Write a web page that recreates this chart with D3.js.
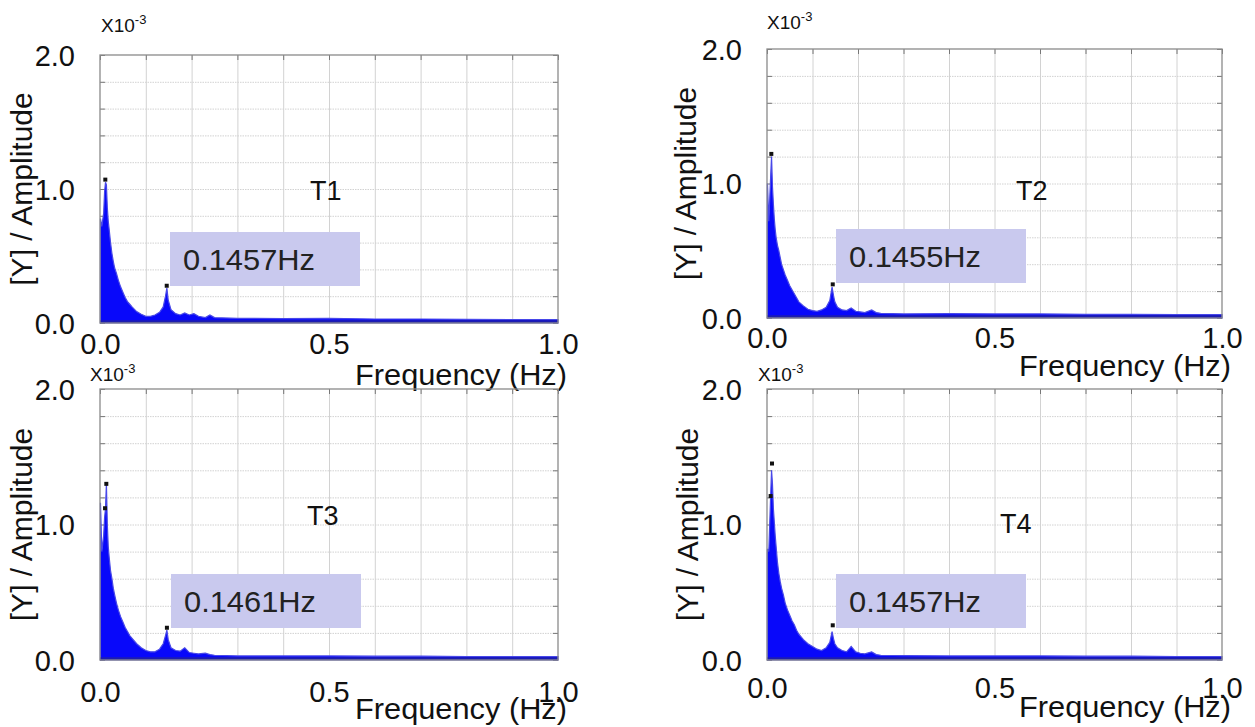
<!DOCTYPE html>
<html>
<head>
<meta charset="utf-8">
<title>FFT spectra T1-T4</title>
<style>
  body { margin: 0; background: #fff; }
  text { font-family: "Liberation Sans", Arial, sans-serif; fill: #111; }
  .grid line { stroke: #d2d2d2; stroke-width: 1; }
  .grid path { display: none; }
  .gridh line { stroke-dasharray: 1.5,1; }
  .inner path { display: none; }
  .inner line { stroke: #777; stroke-width: 1; }
  .lab path, .lab line { display: none; }
</style>
</head>
<body>
<script src="https://d3js.org/d3.v7.min.js"></script>
<script>
// frequency grid (Hz) shared by all four spectra
var FREQ = [0.001, 0.004, 0.008, 0.010, 0.012, 0.014, 0.016, 0.018, 0.020, 0.023,
            0.026, 0.029, 0.032, 0.036, 0.040, 0.045, 0.050, 0.055, 0.060, 0.065,
            0.070, 0.080, 0.090, 0.100, 0.110, 0.120, 0.130, 0.138, 0.143, 0.146,
            0.149, 0.155, 0.165, 0.175, 0.185, 0.195, 0.205, 0.215, 0.230, 0.240,
            0.250, 0.300, 0.400, 0.500, 0.600, 0.700, 0.800, 0.900, 1.000];

// amplitude envelopes, x10^-3
var AMP_T1 = [0.78, 0.72, 0.82, 0.98, 1.05, 1.03, 0.86, 0.76, 0.70, 0.60,
              0.52, 0.46, 0.41, 0.37, 0.32, 0.27, 0.23, 0.19, 0.16, 0.14,
              0.12, 0.085, 0.065, 0.05, 0.05, 0.06, 0.08, 0.12, 0.20, 0.26,
              0.17, 0.10, 0.07, 0.06, 0.075, 0.06, 0.07, 0.05, 0.04, 0.06,
              0.04, 0.035, 0.032, 0.035, 0.03, 0.03, 0.028, 0.026, 0.025];
var AMP_T2 = [1.00, 0.72, 1.05, 1.20, 0.98, 0.85, 0.74, 0.66, 0.60, 0.54,
              0.50, 0.45, 0.40, 0.36, 0.32, 0.28, 0.24, 0.21, 0.18, 0.15,
              0.12, 0.09, 0.065, 0.055, 0.05, 0.06, 0.08, 0.13, 0.23, 0.17,
              0.12, 0.08, 0.06, 0.055, 0.075, 0.05, 0.045, 0.04, 0.06, 0.04,
              0.035, 0.03, 0.032, 0.03, 0.03, 0.028, 0.028, 0.025, 0.025];
var AMP_T3 = [1.16, 0.80, 0.92, 1.05, 1.12, 1.30, 1.00, 0.84, 0.76, 0.66,
              0.60, 0.53, 0.48, 0.42, 0.37, 0.32, 0.28, 0.24, 0.21, 0.18,
              0.16, 0.12, 0.09, 0.07, 0.06, 0.06, 0.08, 0.12, 0.18, 0.22,
              0.15, 0.09, 0.07, 0.065, 0.09, 0.055, 0.05, 0.045, 0.05, 0.04,
              0.035, 0.03, 0.03, 0.03, 0.028, 0.028, 0.026, 0.025, 0.025];
var AMP_T4 = [0.82, 0.80, 1.21, 1.40, 1.30, 1.12, 1.02, 0.92, 0.84, 0.72,
              0.64, 0.58, 0.53, 0.48, 0.42, 0.37, 0.33, 0.29, 0.26, 0.22,
              0.19, 0.15, 0.12, 0.10, 0.08, 0.07, 0.09, 0.13, 0.21, 0.16,
              0.12, 0.09, 0.07, 0.06, 0.10, 0.06, 0.05, 0.045, 0.06, 0.04,
              0.035, 0.032, 0.03, 0.03, 0.03, 0.028, 0.028, 0.026, 0.025];

// marked peaks [freq, amp]
var PEAKS_T1 = [[0.0116, 1.07], [0.1457, 0.278]];
var PEAKS_T2 = [[0.0095, 1.22], [0.1445, 0.25]];
var PEAKS_T3 = [[0.0138, 1.30], [0.011, 1.12], [0.1461, 0.238]];
var PEAKS_T4 = [[0.011, 1.45], [0.008, 1.21], [0.1445, 0.256]];

var NAMES = ["T1", "T2", "T3", "T4"];
var PEAK_LABELS = ["0.1457Hz", "0.1455Hz", "0.1461Hz", "0.1457Hz"];
var X_TICKS = [0, 0.5, 1.0];
var Y_TICKS = [0, 1.0, 2.0];

var amps = [AMP_T1, AMP_T2, AMP_T3, AMP_T4];
var peaks = [PEAKS_T1, PEAKS_T2, PEAKS_T3, PEAKS_T4];

// panel placement in pixels
var layout = [
  {l: 100, r: 558,  t: 55,  b: 323, xlabY: 354, freqY: 385, ylabX: 22,  expX: 101, expY: 32,  nameX: 310,  nameY: 200, box: [170, 232]},
  {l: 767, r: 1222, t: 49,  b: 318, xlabY: 348, freqY: 376, ylabX: 686, expX: 767, expY: 29,  nameX: 1016, nameY: 200, box: [836, 229]},
  {l: 100, r: 558,  t: 389, b: 660, xlabY: 702, freqY: 719, ylabX: 22,  expX: 90,  expY: 381, nameX: 307,  nameY: 525, box: [171, 574]},
  {l: 767, r: 1222, t: 389, b: 660, xlabY: 698, freqY: 717, ylabX: 688, expX: 758, expY: 381, nameX: 1000, nameY: 533, box: [836, 574]}
];

var svg = d3.select("body").append("svg")
  .attr("width", 1255)
  .attr("height", 727);

layout.forEach(function(L, i) {
  var w = L.r - L.l, h = L.b - L.t;
  var x = d3.scaleLinear().domain([0, 1]).range([0, w]);
  var y = d3.scaleLinear().domain([0, 2]).range([h, 0]);

  var g = svg.append("g").attr("transform", "translate(" + L.l + "," + L.t + ")");

  // grid
  g.append("g").attr("class", "grid")
    .attr("transform", "translate(0," + h + ")")
    .call(d3.axisBottom(x).tickValues(d3.range(1, 10).map(function(d) { return d / 10; }))
      .tickSize(-h).tickFormat(""));
  g.append("g").attr("class", "grid gridh")
    .call(d3.axisLeft(y).tickValues(d3.range(1, 10).map(function(d) { return d / 5; }))
      .tickSize(-w).tickFormat(""));

  // small inner ticks on the frame
  var xt = d3.range(0, 11).map(function(d) { return d / 10; });
  var yt = d3.range(0, 11).map(function(d) { return d / 5; });
  g.append("g").attr("class", "inner").call(d3.axisTop(x).tickValues(xt).tickSize(-5).tickFormat(""));
  g.append("g").attr("class", "inner").call(d3.axisLeft(y).tickValues(yt).tickSize(-5).tickFormat(""));
  g.append("g").attr("class", "inner").attr("transform", "translate(" + w + ",0)")
    .call(d3.axisRight(y).tickValues(yt).tickSize(-5).tickFormat(""));

  // spectrum
  var data = FREQ.map(function(f, k) { return [f, amps[i][k]]; });
  var area = d3.area()
    .x(function(d) { return x(d[0]); })
    .y0(y(0))
    .y1(function(d) { return y(d[1]); });
  g.append("path").datum(data)
    .attr("d", area)
    .attr("fill", "#0808fa")
    .attr("stroke", "#4848e8")
    .attr("stroke-width", 1.2);
  g.append("line")
    .attr("x1", x(0)).attr("x2", x(1))
    .attr("y1", y(0) - 1.5).attr("y2", y(0) - 1.5)
    .attr("stroke", "#1c1cb0").attr("stroke-width", 2.5);

  // frame
  g.append("rect")
    .attr("width", w).attr("height", h)
    .attr("fill", "none").attr("stroke", "#8a8a8a").attr("stroke-width", 1.3);

  // peak markers
  g.selectAll(".pk").data(peaks[i]).enter().append("rect")
    .attr("x", function(d) { return x(d[0]) - 2; })
    .attr("y", function(d) { return y(d[1]) - 2; })
    .attr("width", 4).attr("height", 4)
    .attr("fill", "#111");

  // tick labels
  g.append("g").attr("class", "lab")
    .attr("transform", "translate(0," + (L.xlabY - L.t) + ")")
    .call(d3.axisBottom(x).tickValues(X_TICKS).tickSize(0).tickPadding(0).tickFormat(d3.format(".1f")))
    .selectAll("text")
    .attr("dy", 0).attr("y", 0)
    .style("font-size", "29px").style("fill", "#111")
    .style("font-family", "'Liberation Sans', Arial, sans-serif");
  g.append("g").attr("class", "lab")
    .attr("transform", "translate(-25,0)")
    .call(d3.axisLeft(y).tickValues(Y_TICKS).tickSize(0).tickPadding(0).tickFormat(d3.format(".1f")))
    .selectAll("text")
    .attr("dy", "0.35em")
    .style("font-size", "29px").style("fill", "#111")
    .style("font-family", "'Liberation Sans', Arial, sans-serif");

  // axis titles
  svg.append("text")
    .attr("x", L.r + 9).attr("y", L.freqY)
    .attr("text-anchor", "end")
    .attr("textLength", 212).attr("lengthAdjust", "spacingAndGlyphs")
    .style("font-size", "30px")
    .text("Frequency (Hz)");
  svg.append("text")
    .attr("transform", "translate(" + (L.ylabX + 10) + "," + (L.t + h * 0.5) + ") rotate(-90)")
    .attr("text-anchor", "middle")
    .style("font-size", "30px")
    .text("[Y] / Amplitude");

  // exponent
  var ex = svg.append("text").attr("x", L.expX).attr("y", L.expY).style("font-size", "19px");
  ex.append("tspan").text("X10");
  ex.append("tspan").attr("dy", -8).style("font-size", "13px").text("-3");

  // series name
  svg.append("text").attr("x", L.nameX).attr("y", L.nameY)
    .style("font-size", "27px").text(NAMES[i]);

  // peak annotation box
  svg.append("rect")
    .attr("x", L.box[0]).attr("y", L.box[1])
    .attr("width", 190).attr("height", 54)
    .attr("fill", "#c9c9ee");
  svg.append("text")
    .attr("x", L.box[0] + 13).attr("y", L.box[1] + 38)
    .attr("textLength", 132).attr("lengthAdjust", "spacingAndGlyphs")
    .style("font-size", "30px").style("fill", "#222")
    .text(PEAK_LABELS[i]);
});
</script>
</body>
</html>
